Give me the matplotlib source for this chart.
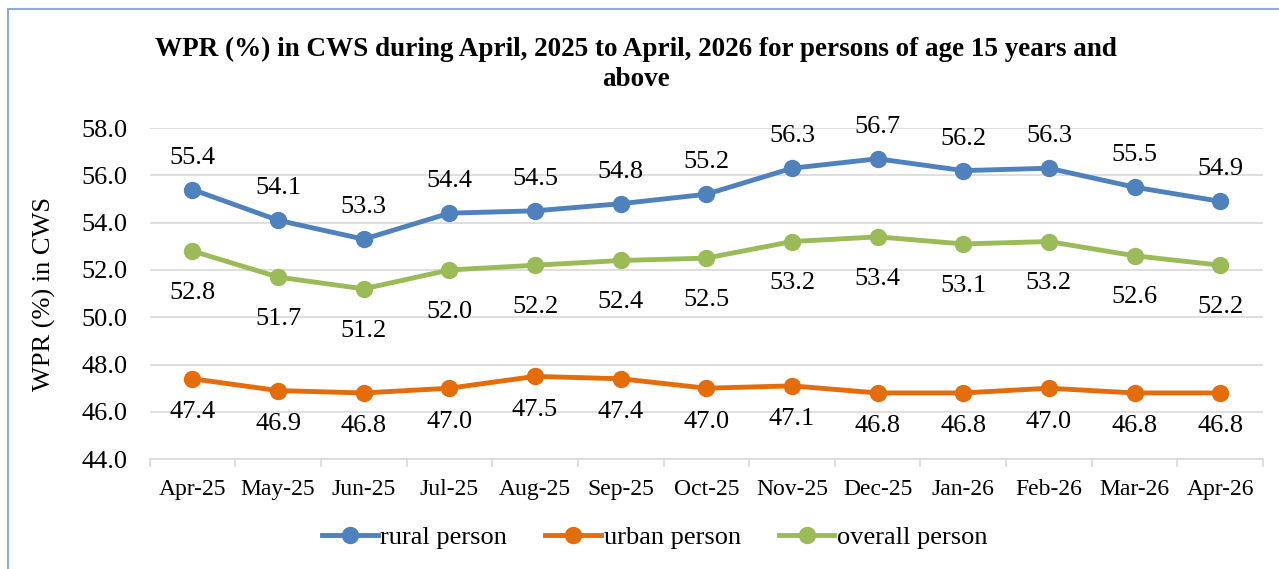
import matplotlib.pyplot as plt
from matplotlib.patches import Rectangle

plt.rcParams['font.family'] = ['Liberation Serif', 'DejaVu Serif']

months = ["Apr-25", "May-25", "Jun-25", "Jul-25", "Aug-25", "Sep-25", "Oct-25",
          "Nov-25", "Dec-25", "Jan-26", "Feb-26", "Mar-26", "Apr-26"]
rural = [55.4, 54.1, 53.3, 54.4, 54.5, 54.8, 55.2, 56.3, 56.7, 56.2, 56.3, 55.5, 54.9]
urban = [47.4, 46.9, 46.8, 47.0, 47.5, 47.4, 47.0, 47.1, 46.8, 46.8, 47.0, 46.8, 46.8]
overall = [52.8, 51.7, 51.2, 52.0, 52.2, 52.4, 52.5, 53.2, 53.4, 53.1, 53.2, 52.6, 52.2]

series = [
    ("rural person", rural, "#4F81BD", 23),
    ("urban person", urban, "#E46C0A", -24),
    ("overall person", overall, "#9BBB59", -30),
]

fig = plt.figure(figsize=(12.79, 5.69), dpi=100)
ax = fig.add_axes([0.117, 0.193, 0.8705, 0.582])

x = list(range(len(months)))
for name, vals, col, off in series:
    ax.plot(x, vals, color=col, lw=3.5, marker="o", ms=11.5, label=name, zorder=3)
    for xi, v in zip(x, vals):
        ax.annotate(f"{v:.1f}", (xi, v), xytext=(0, off), textcoords="offset points",
                    ha="center", va="center", fontsize=19)

ax.set_xlim(-0.5, 12.5)
ax.set_ylim(44, 58)
ax.set_yticks([44, 46, 48, 50, 52, 54, 56, 58])
ax.set_yticklabels([f"{v:.1f}" for v in range(44, 59, 2)], fontsize=19)
ax.set_xticks(x)
ax.set_xticklabels(months, fontsize=17)
ax.set_xticks([i - 0.5 for i in range(14)], minor=True)
ax.tick_params(axis="x", which="major", length=0, pad=14)
ax.tick_params(axis="x", which="minor", length=6, color="#D9D9D9", width=1.2)
ax.tick_params(axis="y", length=0, pad=16)
ax.grid(axis="y", color="#D9D9D9", lw=1.2)
ax.set_axisbelow(True)
for s in ["top", "right", "left"]:
    ax.spines[s].set_visible(False)
ax.spines["bottom"].set_color("#D9D9D9")
ax.spines["bottom"].set_linewidth(1.2)
ax.set_ylabel("WPR (%) in CWS", fontsize=19, labelpad=18)

fig.text(0.497, 0.887, "WPR (%) in CWS during April, 2025 to April, 2026 for persons of age 15 years and\nabove",
         ha="center", va="center", fontsize=19.5, fontweight="bold", linespacing=1.25)

fig.legend(loc="center", bbox_to_anchor=(0.512, 0.056), ncol=3, frameon=False,
           fontsize=19, handlelength=2.1, columnspacing=1.45, handletextpad=0.1)

fig.patches.append(Rectangle((8 / 1279, -0.1), 1.2, 1 - 9 / 569 + 0.1, transform=fig.transFigure,
                             fill=False, edgecolor="#8EA9DB", lw=1.5))

fig.savefig("out.png", dpi=100)
